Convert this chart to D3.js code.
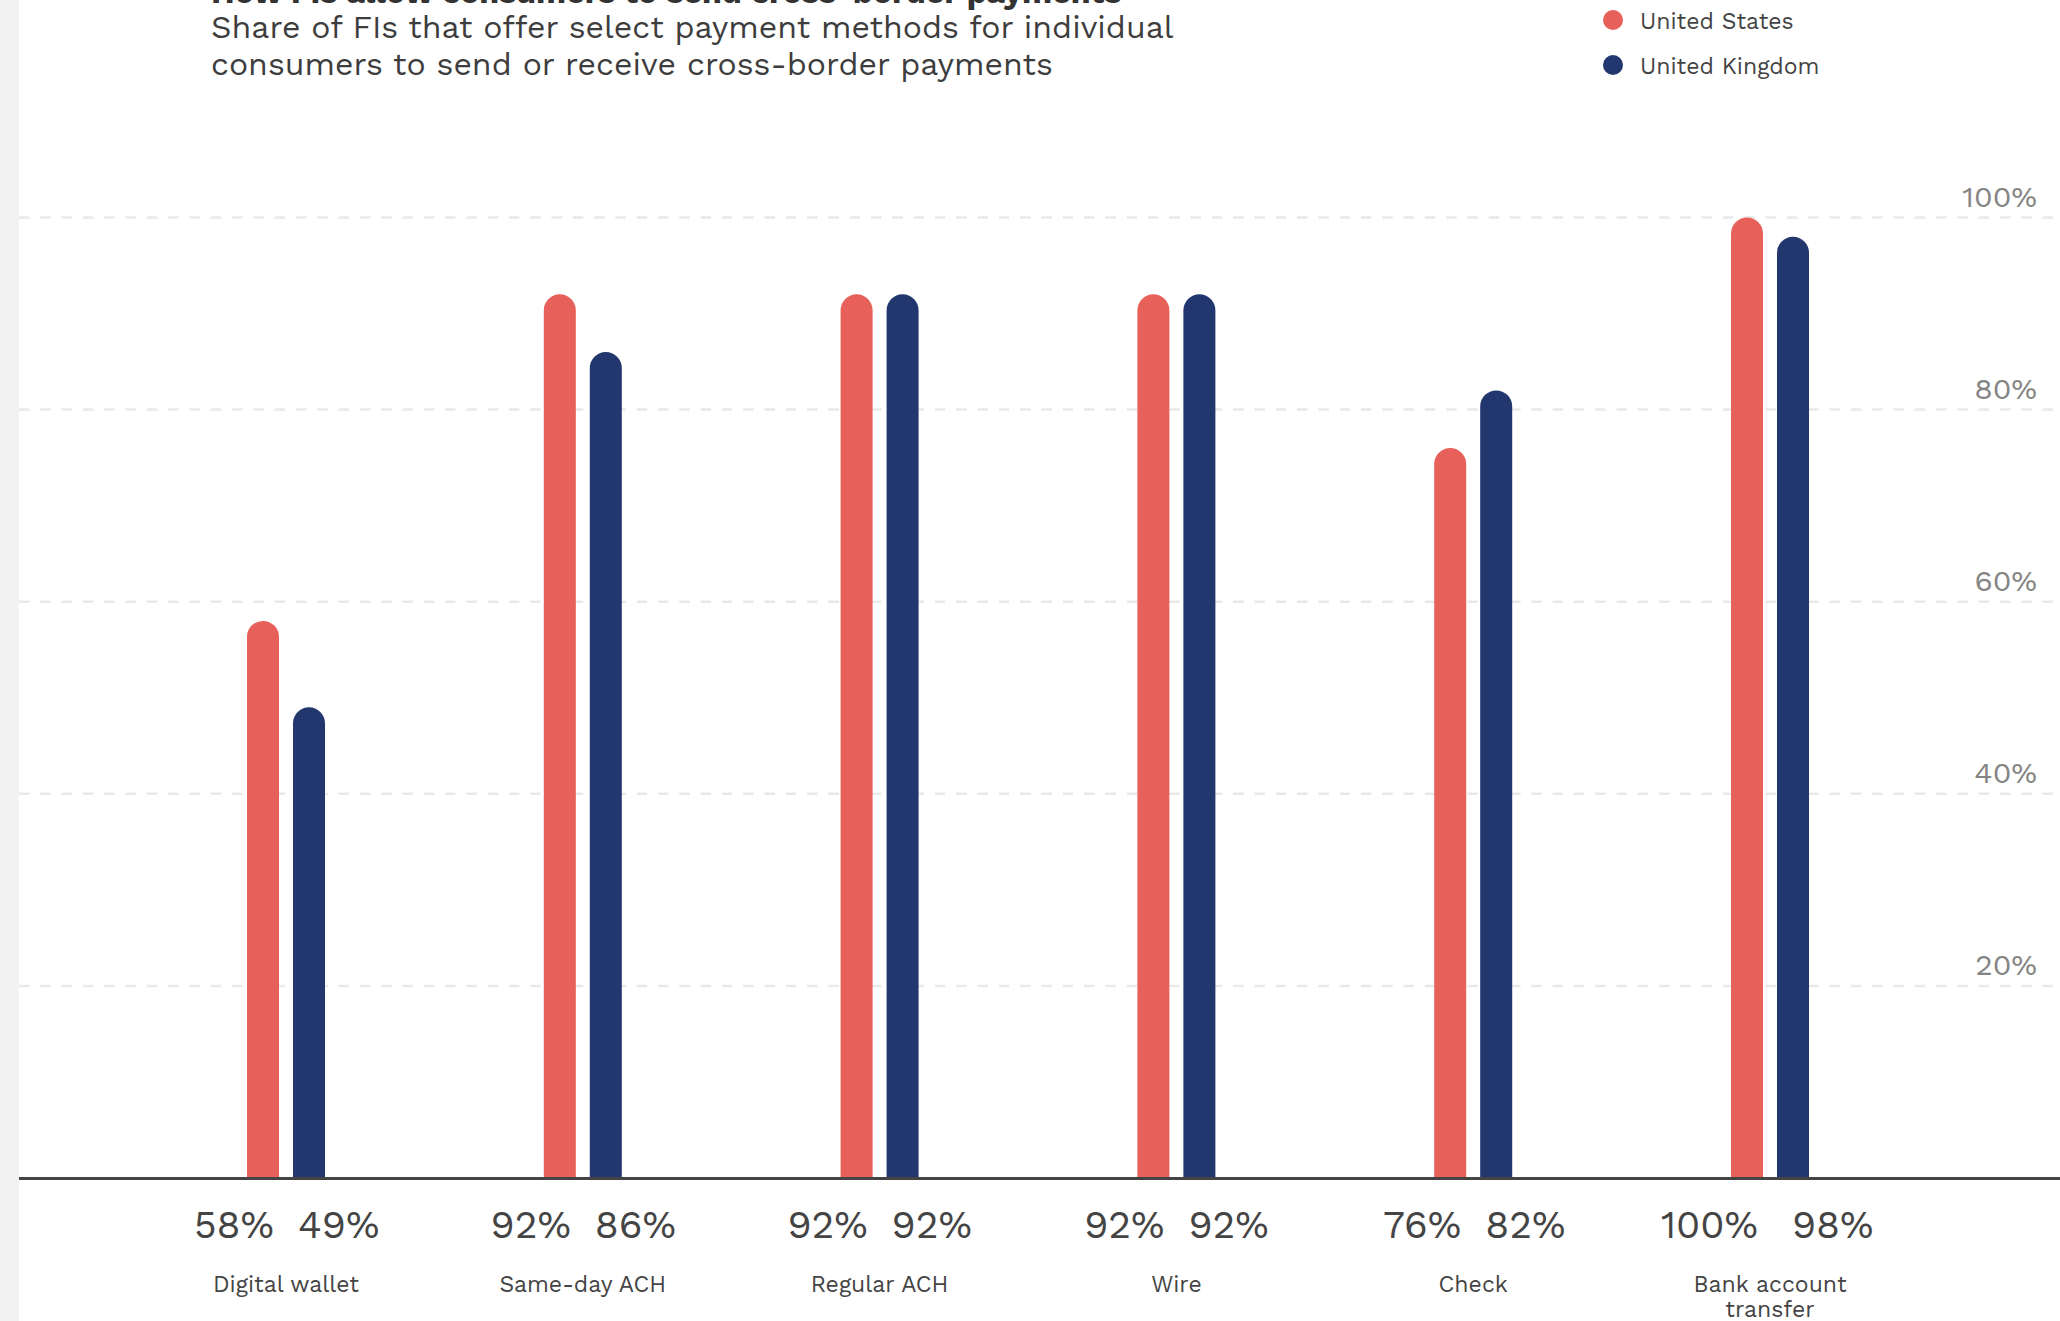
<!DOCTYPE html>
<html>
<head>
<meta charset="utf-8">
<script src="https://cdn.jsdelivr.net/npm/d3@7"></script>
<style>
  body { margin: 0; background: #fff; }
  svg { display: block; font-family: "Work Sans", "Open Sans", sans-serif; }
</style>
</head>
<body>
<svg id="chart"></svg>
<script>
// data
const categories = ["Digital wallet", "Same-day ACH", "Regular ACH", "Wire", "Check", "Bank account transfer"];
const usValues = [58, 92, 92, 92, 76, 100];
const ukValues = [49, 86, 92, 92, 82, 98];
const seriesNames = ["United States", "United Kingdom"];
const seriesColors = ["#e8605a", "#23376f"];
const yTicks = [20, 40, 60, 80, 100];

const title = "How FIs allow consumers to send cross-border payments";
const subtitle = ["Share of FIs that offer select payment methods for individual",
                  "consumers to send or receive cross-border payments"];

const W = 2060, H = 1321;
const rows = categories.map((c, i) => ({cat: c, vals: [usValues[i], ukValues[i]]}));

const svg = d3.select("svg#chart")
  .attr("width", W)
  .attr("height", H);

// grey strip on the left edge
svg.append("rect")
  .attr("x", 0).attr("y", 0)
  .attr("width", 19).attr("height", H)
  .attr("fill", "#f2f2f2");

let x = d3.scaleBand()
  .domain(categories)
  .range([137.6, 1918.4]);

let xInner = d3.scaleBand()
  .domain([0, 1])
  .range([-39, 39])
  .paddingInner(0.304);

let y = d3.scaleLinear()
  .domain([0, 100])
  .range([1178, 217.5]);

// dashed gridlines
svg.append("g")
  .selectAll("line")
  .data(yTicks)
  .enter()
  .append("line")
  .attr("x1", 19)
  .attr("x2", W)
  .attr("y1", d => y(d))
  .attr("y2", d => y(d))
  .attr("stroke", "#e9e9e9")
  .attr("stroke-width", 2.5)
  .attr("stroke-dasharray", "10.5 10.8");

// y tick labels on the right
svg.append("g")
  .selectAll("text")
  .data(yTicks)
  .enter()
  .append("text")
  .attr("x", 2037)
  .attr("y", d => y(d) - 10.5)
  .attr("text-anchor", "end")
  .attr("fill", "#858585")
  .style("font-size", "30px")
  .text(d => d + "%");

// bars with rounded tops
function barPath(cx, v) {
  const w = xInner.bandwidth(), r = w / 2;
  const x0 = cx - r, top = y(v), base = y(0);
  const p = d3.path();
  p.moveTo(x0, base);
  p.lineTo(x0, top + r);
  p.arc(cx, top + r, r, Math.PI, 0);
  p.lineTo(x0 + w, base);
  p.closePath();
  return p.toString();
}

const groups = svg.append("g")
  .selectAll("g")
  .data(rows)
  .enter()
  .append("g")
  .attr("transform", d => `translate(${x(d.cat) + x.bandwidth() / 2},0)`);

groups.selectAll("path")
  .data(d => d.vals.map((v, k) => ({v, k})))
  .enter()
  .append("path")
  .attr("d", d => barPath(xInner(d.k) + xInner.bandwidth() / 2, d.v))
  .attr("fill", d => seriesColors[d.k]);

// baseline
svg.append("line")
  .attr("x1", 19).attr("x2", W)
  .attr("y1", y(0) + 0.5).attr("y2", y(0) + 0.5)
  .attr("stroke", "#444")
  .attr("stroke-width", 3);

// value labels under each group
groups.append("text")
  .attr("x", -12)
  .attr("y", 1237.5)
  .attr("text-anchor", "end")
  .attr("fill", "#444")
  .style("font-size", "39px")
  .text(d => d.vals[0] + "%");

groups.append("text")
  .attr("x", d => d.vals[0] >= 100 ? 22 : 12)
  .attr("y", 1237.5)
  .attr("text-anchor", "start")
  .attr("fill", "#444")
  .style("font-size", "39px")
  .text(d => d.vals[1] + "%");

// category names, wrapped when too wide
groups.append("text")
  .attr("y", 1292)
  .attr("text-anchor", "middle")
  .attr("fill", "#444")
  .style("font-size", "23px")
  .each(function (d) {
    const t = d3.select(this);
    const words = d.cat.split(" ");
    let lines = [[]];
    words.forEach(wd => {
      const cur = lines[lines.length - 1];
      t.text(cur.concat(wd).join(" "));
      if (cur.length && this.getComputedTextLength() > 190) lines.push([wd]);
      else cur.push(wd);
    });
    t.text(null);
    lines.forEach((ln, i) => {
      t.append("tspan")
        .attr("x", 0)
        .attr("dy", i ? 24.5 : 0)
        .text(ln.join(" "));
    });
  });

// title block (title mostly cut off at top, as in the source)
svg.append("text")
  .attr("x", 211)
  .attr("y", 3)
  .attr("fill", "#333")
  .style("font-size", "32px")
  .style("font-weight", "bold")
  .text(title);

svg.append("g")
  .selectAll("text")
  .data(subtitle)
  .enter()
  .append("text")
  .attr("x", 211)
  .attr("y", (d, i) => 37.5 + i * 37)
  .attr("fill", "#3d3d3d")
  .style("font-size", "32px")
  .text(d => d);

// legend
const legend = svg.append("g")
  .selectAll("g")
  .data(seriesNames)
  .enter()
  .append("g")
  .attr("transform", (d, i) => `translate(1613,${20 + i * 45})`);

legend.append("circle")
  .attr("r", 10)
  .attr("fill", (d, i) => seriesColors[i]);

legend.append("text")
  .attr("x", 27)
  .attr("y", 8.5)
  .attr("fill", "#444")
  .style("font-size", "23px")
  .text(d => d);
</script>
</body>
</html>
